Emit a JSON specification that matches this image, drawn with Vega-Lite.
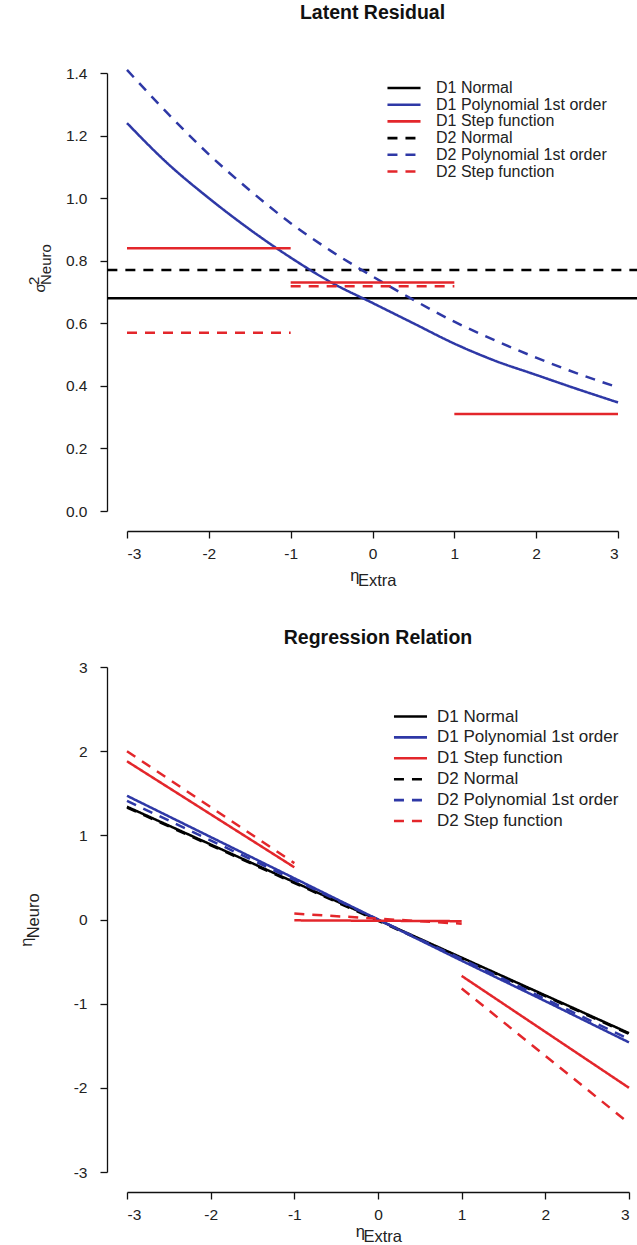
{
  "$schema": "https://vega.github.io/schema/vega-lite/v6.json",
  "padding": {"left": 18, "top": 3, "right": 0, "bottom": 0},
  "background": "white",
  "config": {
    "view": {"stroke": null},
    "font": "Liberation Sans",
    "axis": {
      "grid": false,
      "domainColor": "#111",
      "domainWidth": 1.3,
      "tickColor": "#111",
      "tickWidth": 1.3,
      "tickSize": 7,
      "labelFont": "Liberation Sans",
      "labelFontSize": 15.5,
      "labelColor": "#222",
      "titleFont": "Liberation Sans",
      "titleFontWeight": "normal",
      "titleColor": "#222"
    },
    "legend": {
      "symbolType": "M -2.7 0 L 2.7 0",
      "symbolSize": 150,
      "symbolStrokeWidth": 2.6,
      "labelFont": "Liberation Sans",
      "labelColor": "#222",
      "labelLimit": 400,
      "padding": 0,
      "title": null
    },
    "title": {"font": "Liberation Sans", "fontWeight": "bold", "fontSize": 19.5, "color": "#111", "anchor": "middle"}
  },
  "spacing": 38,
  "resolve": {
    "scale": {"x": "independent", "y": "independent", "color": "independent", "strokeDash": "independent"},
    "legend": {"color": "independent", "strokeDash": "independent"}
  },
  "vconcat": [
    {
      "title": {"text": "Latent Residual", "offset": 41},
      "width": 491,
      "height": 438,
      "data": {"values": [
        {"series": "D1 Normal", "seg": "n1", "x": -3.24, "y": 0.68},
        {"series": "D1 Normal", "seg": "n1", "x": 3.24, "y": 0.68},
        {"series": "D2 Normal", "seg": "n2", "x": -3.24, "y": 0.77},
        {"series": "D2 Normal", "seg": "n2", "x": 3.24, "y": 0.77},
        {"series": "D1 Polynomial 1st order", "seg": "p1", "x": -3, "y": 1.24},
        {"series": "D1 Polynomial 1st order", "seg": "p1", "x": -2.5, "y": 1.11},
        {"series": "D1 Polynomial 1st order", "seg": "p1", "x": -2, "y": 1.0},
        {"series": "D1 Polynomial 1st order", "seg": "p1", "x": -1.5, "y": 0.9},
        {"series": "D1 Polynomial 1st order", "seg": "p1", "x": -1, "y": 0.81},
        {"series": "D1 Polynomial 1st order", "seg": "p1", "x": -0.5, "y": 0.73},
        {"series": "D1 Polynomial 1st order", "seg": "p1", "x": 0, "y": 0.665},
        {"series": "D1 Polynomial 1st order", "seg": "p1", "x": 0.5, "y": 0.6},
        {"series": "D1 Polynomial 1st order", "seg": "p1", "x": 1, "y": 0.535},
        {"series": "D1 Polynomial 1st order", "seg": "p1", "x": 1.5, "y": 0.48},
        {"series": "D1 Polynomial 1st order", "seg": "p1", "x": 2, "y": 0.435},
        {"series": "D1 Polynomial 1st order", "seg": "p1", "x": 2.5, "y": 0.39},
        {"series": "D1 Polynomial 1st order", "seg": "p1", "x": 3, "y": 0.347},
        {"series": "D2 Polynomial 1st order", "seg": "p2", "x": -3, "y": 1.41},
        {"series": "D2 Polynomial 1st order", "seg": "p2", "x": -2.5, "y": 1.27},
        {"series": "D2 Polynomial 1st order", "seg": "p2", "x": -2, "y": 1.14},
        {"series": "D2 Polynomial 1st order", "seg": "p2", "x": -1.5, "y": 1.025},
        {"series": "D2 Polynomial 1st order", "seg": "p2", "x": -1, "y": 0.92},
        {"series": "D2 Polynomial 1st order", "seg": "p2", "x": -0.5, "y": 0.83},
        {"series": "D2 Polynomial 1st order", "seg": "p2", "x": 0, "y": 0.75},
        {"series": "D2 Polynomial 1st order", "seg": "p2", "x": 0.5, "y": 0.675},
        {"series": "D2 Polynomial 1st order", "seg": "p2", "x": 1, "y": 0.605},
        {"series": "D2 Polynomial 1st order", "seg": "p2", "x": 1.5, "y": 0.545},
        {"series": "D2 Polynomial 1st order", "seg": "p2", "x": 2, "y": 0.49},
        {"series": "D2 Polynomial 1st order", "seg": "p2", "x": 2.5, "y": 0.44},
        {"series": "D2 Polynomial 1st order", "seg": "p2", "x": 3, "y": 0.395},
        {"series": "D1 Step function", "seg": "s1a", "x": -3, "y": 0.84},
        {"series": "D1 Step function", "seg": "s1a", "x": -1, "y": 0.84},
        {"series": "D1 Step function", "seg": "s1b", "x": -1, "y": 0.73},
        {"series": "D1 Step function", "seg": "s1b", "x": 1, "y": 0.73},
        {"series": "D1 Step function", "seg": "s1c", "x": 1, "y": 0.31},
        {"series": "D1 Step function", "seg": "s1c", "x": 3, "y": 0.31},
        {"series": "D2 Step function", "seg": "s2a", "x": -3, "y": 0.57},
        {"series": "D2 Step function", "seg": "s2a", "x": -1, "y": 0.57},
        {"series": "D2 Step function", "seg": "s2b", "x": -1, "y": 0.718},
        {"series": "D2 Step function", "seg": "s2b", "x": 1, "y": 0.718}
      ]},
      "mark": {"type": "line", "clip": false, "strokeWidth": 2.5, "interpolate": "monotone"},
      "encoding": {
        "x": {"field": "x", "type": "quantitative",
              "scale": {"domain": [-3, 3], "nice": false, "zero": false},
              "axis": {"values": [-3, -2, -1, 0, 1, 2, 3], "labelExpr": "'' + datum.value", "offset": 20, "labelPadding": 8,
                       "title": ["η\u2003\u2003\u2009\u200B", "\u200B\u2002Extra"], "titleFontSize": 16.5, "titleLineHeight": 5, "titlePadding": 6}},
        "y": {"field": "y", "type": "quantitative",
              "scale": {"domain": [0, 1.4], "nice": false, "zero": false},
              "axis": {"values": [0, 0.2, 0.4, 0.6, 0.8, 1.0, 1.2, 1.4], "format": ".1f", "offset": 20, "labelPadding": 13,
                       "title": ["\u200B\u20022", "σ", "\u200B\u2002Neuro"], "titleFontSize": 15, "titleLineHeight": 6, "titleAlign": "left", "titlePadding": 12}},
        "detail": {"field": "seg"},
        "color": {"field": "series", "type": "nominal",
                  "scale": {"domain": ["D1 Normal", "D1 Polynomial 1st order", "D1 Step function", "D2 Normal", "D2 Polynomial 1st order", "D2 Step function"],
                            "range": ["#000000", "#2e38a6", "#e3262b", "#000000", "#2e38a6", "#e3262b"]},
                  "legend": {"orient": "none", "legendX": 269, "legendY": 7, "rowPadding": 0.7, "labelFontSize": 16, "labelOffset": 24}},
        "strokeDash": {"field": "series", "type": "nominal",
                  "scale": {"domain": ["D1 Normal", "D1 Polynomial 1st order", "D1 Step function", "D2 Normal", "D2 Polynomial 1st order", "D2 Step function"],
                            "range": [[1, 0], [1, 0], [1, 0], [10, 8], [10, 8], [10, 8]]},
                  "legend": {"orient": "none", "legendX": 269, "legendY": 7, "rowPadding": 0.7, "labelFontSize": 16, "labelOffset": 24}}
      }
    },
    {
      "title": {"text": "Regression Relation", "offset": 12},
      "width": 502,
      "height": 505,
      "data": {"values": [
        {"series": "D1 Normal", "seg": "n1", "x": -3, "y": 1.34},
        {"series": "D1 Normal", "seg": "n1", "x": 3, "y": -1.35},
        {"series": "D2 Normal", "seg": "n2", "x": -3, "y": 1.33},
        {"series": "D2 Normal", "seg": "n2", "x": 3, "y": -1.36},
        {"series": "D1 Polynomial 1st order", "seg": "p1", "x": -3, "y": 1.47},
        {"series": "D1 Polynomial 1st order", "seg": "p1", "x": -2, "y": 0.98},
        {"series": "D1 Polynomial 1st order", "seg": "p1", "x": -1, "y": 0.49},
        {"series": "D1 Polynomial 1st order", "seg": "p1", "x": 0, "y": 0},
        {"series": "D1 Polynomial 1st order", "seg": "p1", "x": 1, "y": -0.49},
        {"series": "D1 Polynomial 1st order", "seg": "p1", "x": 2, "y": -0.97},
        {"series": "D1 Polynomial 1st order", "seg": "p1", "x": 3, "y": -1.46},
        {"series": "D2 Polynomial 1st order", "seg": "p2", "x": -3, "y": 1.41},
        {"series": "D2 Polynomial 1st order", "seg": "p2", "x": -1, "y": 0.47},
        {"series": "D2 Polynomial 1st order", "seg": "p2", "x": 0, "y": 0},
        {"series": "D2 Polynomial 1st order", "seg": "p2", "x": 1, "y": -0.47},
        {"series": "D2 Polynomial 1st order", "seg": "p2", "x": 3, "y": -1.42},
        {"series": "D1 Step function", "seg": "s1a", "x": -3, "y": 1.88},
        {"series": "D1 Step function", "seg": "s1a", "x": -1, "y": 0.62},
        {"series": "D1 Step function", "seg": "s1b", "x": -1, "y": -0.01},
        {"series": "D1 Step function", "seg": "s1b", "x": 1, "y": -0.02},
        {"series": "D1 Step function", "seg": "s1c", "x": 1, "y": -0.67},
        {"series": "D1 Step function", "seg": "s1c", "x": 3, "y": -2.0},
        {"series": "D2 Step function", "seg": "s2a", "x": -3, "y": 2.0},
        {"series": "D2 Step function", "seg": "s2a", "x": -1, "y": 0.67},
        {"series": "D2 Step function", "seg": "s2b", "x": -1, "y": 0.07},
        {"series": "D2 Step function", "seg": "s2b", "x": 1, "y": -0.05},
        {"series": "D2 Step function", "seg": "s2c", "x": 1, "y": -0.82},
        {"series": "D2 Step function", "seg": "s2c", "x": 3, "y": -2.42}
      ]},
      "mark": {"type": "line", "clip": false, "strokeWidth": 2.5},
      "encoding": {
        "x": {"field": "x", "type": "quantitative",
              "scale": {"domain": [-3, 3], "nice": false, "zero": false},
              "axis": {"values": [-3, -2, -1, 0, 1, 2, 3], "labelExpr": "'' + datum.value", "offset": 20, "labelPadding": 8,
                       "title": ["η\u2003\u2003\u2009\u200B", "\u200B\u2002Extra"], "titleFontSize": 16.5, "titleLineHeight": 5, "titlePadding": 1}},
        "y": {"field": "y", "type": "quantitative",
              "scale": {"domain": [-3, 3], "nice": false, "zero": false},
              "axis": {"values": [-3, -2, -1, 0, 1, 2, 3], "labelExpr": "'' + datum.value", "offset": 20, "labelPadding": 13,
                       "title": ["η\u2003\u2003\u2002\u2009\u200B", "\u200B\u2002Neuro"], "titleFontSize": 16.5, "titleLineHeight": 7, "titlePadding": 32}},
        "detail": {"field": "seg"},
        "color": {"field": "series", "type": "nominal",
                  "scale": {"domain": ["D1 Normal", "D1 Polynomial 1st order", "D1 Step function", "D2 Normal", "D2 Polynomial 1st order", "D2 Step function"],
                            "range": ["#000000", "#2e38a6", "#e3262b", "#000000", "#2e38a6", "#e3262b"]},
                  "legend": {"orient": "none", "legendX": 275, "legendY": 41, "rowPadding": 2.9, "labelFontSize": 17, "labelOffset": 18}},
        "strokeDash": {"field": "series", "type": "nominal",
                  "scale": {"domain": ["D1 Normal", "D1 Polynomial 1st order", "D1 Step function", "D2 Normal", "D2 Polynomial 1st order", "D2 Step function"],
                            "range": [[1, 0], [1, 0], [1, 0], [10, 8], [10, 8], [10, 8]]},
                  "legend": {"orient": "none", "legendX": 275, "legendY": 41, "rowPadding": 2.9, "labelFontSize": 17, "labelOffset": 18}}
      }
    }
  ]
}
